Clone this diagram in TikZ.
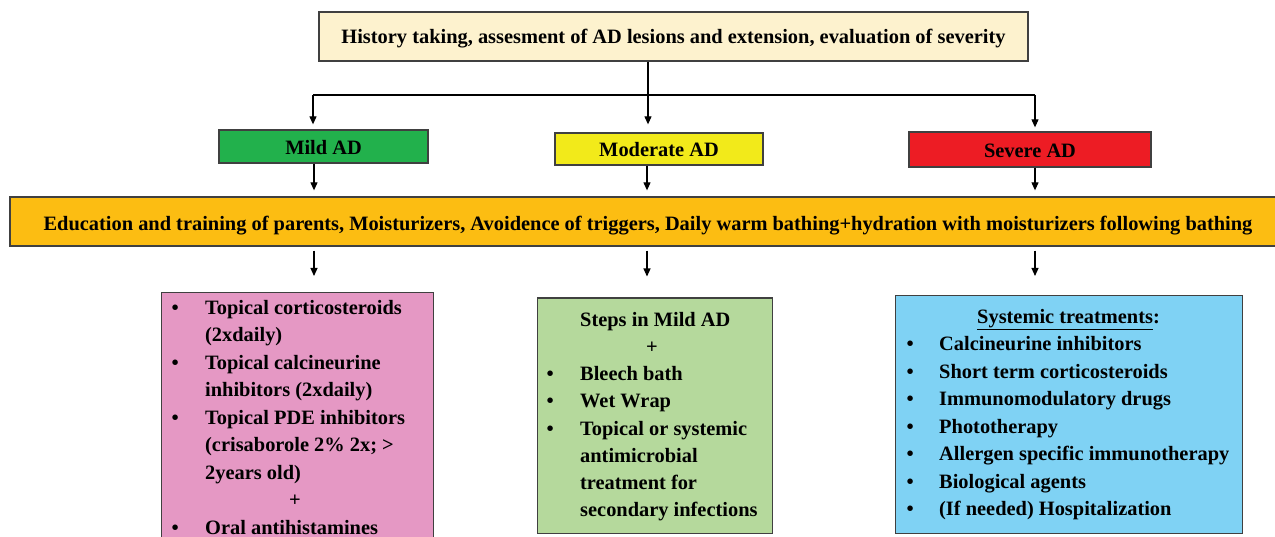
\documentclass[tikz,border=0pt]{standalone}
\usepackage{fontspec}
\setmainfont{Liberation Serif}
\usetikzlibrary{arrows.meta,calc}
\definecolor{cream}{RGB}{253,242,206}
\definecolor{mildg}{RGB}{34,177,76}
\definecolor{mody}{RGB}{242,234,26}
\definecolor{sevr}{RGB}{237,28,36}
\definecolor{band}{RGB}{252,189,18}
\definecolor{pinkb}{RGB}{229,152,196}
\definecolor{greenb}{RGB}{181,217,156}
\definecolor{blueb}{RGB}{127,210,244}
\definecolor{edge}{RGB}{64,64,64}
\tikzset{
  box/.style={draw=edge, line width=1.3pt, inner sep=0pt, text depth=0pt, font=\fontsize{20.4}{27.5}\selectfont\bfseries},
  arr/.style={line width=1.1pt, -{Triangle[length=8pt,width=7pt]}},
  ln/.style={line width=1.1pt},
  txt/.style={inner sep=0pt, anchor=north west, font=\fontsize{20.4}{27.5}\selectfont\bfseries}
}
\begin{document}
\begin{tikzpicture}[x=1pt,y=-1pt]
\useasboundingbox (0,0) rectangle (1275,537);
% top
\node[box, fill=cream, minimum width=709pt, minimum height=49pt, text height=15pt] (top) at (673.5,36.5) {History taking, assesment of AD lesions and extension, evaluation of severity};
% severity boxes
\node[box, fill=mildg, minimum width=209pt, minimum height=33pt, text height=17pt] (mild) at (323.5,146.5) {Mild AD};
\node[box, fill=mody, minimum width=208pt, minimum height=32pt, text height=16pt] (mod) at (659,149) {Moderate AD};
\node[box, fill=sevr, minimum width=242pt, minimum height=35pt, text height=17pt] (sev) at (1030,149.5) {Severe AD};
% band
\node[box, fill=band, minimum width=1276pt, minimum height=49pt, text height=18pt] (bandbox) at (648,221.5) {Education and training of parents, Moisturizers, Avoidence of triggers, Daily warm bathing+hydration with moisturizers following bathing};
% treatment boxes
\node[box, fill=pinkb, minimum width=272pt, minimum height=260pt, anchor=north west] (pink) at (161,292) {};
\node[box, fill=greenb, minimum width=235pt, minimum height=235pt, anchor=north west] (green) at (537,297.5) {};
\node[box, fill=blueb, minimum width=347pt, minimum height=238pt, anchor=north west] (blue) at (895,295) {};
% texts
\node[txt] (pinktxt) at (171.5,295) {\begin{tabular}{@{}p{33.5pt}@{}l@{}}
\textbullet & Topical corticosteroids\\
 & (2xdaily)\\
\textbullet & Topical calcineurine\\
 & inhibitors (2xdaily)\\
\textbullet & Topical PDE inhibitors\\
 & (crisaborole 2\% 2x; >\\
 & 2years old)\\
 & \hspace{84pt}+\\
\textbullet & Oral antihistamines
\end{tabular}};
\node[txt, font=\fontsize{20.4}{27.2}\selectfont\bfseries] (greentxt) at (546.5,307) {\begin{tabular}{@{}p{33.5pt}@{}l@{}}
 & Steps in Mild AD\\
 & \hspace{66pt}+\\
\textbullet & Bleech bath\\
\textbullet & Wet Wrap\\
\textbullet & Topical or systemic\\
 & antimicrobial\\
 & treatment for\\
 & secondary infections
\end{tabular}};
\node[txt] (bluetxt) at (906.5,304) {\begin{tabular}{@{}p{32.5pt}@{}l@{}}
\multicolumn{2}{@{}l@{}}{\hspace{70.5pt}\underline{Systemic treatments}:}\\
\textbullet & Calcineurine inhibitors\\
\textbullet & Short term corticosteroids\\
\textbullet & Immunomodulatory drugs\\
\textbullet & Phototherapy\\
\textbullet & Allergen specific immunotherapy\\
\textbullet & Biological agents\\
\textbullet & (If needed) Hospitalization
\end{tabular}};
% connectors
\coordinate (j) at (648,95);
\coordinate (jl) at (313,95);
\coordinate (jr) at (1035,95);
\draw[ln] (top.south -| j) -- (j);
\draw[ln] (jl) -- (jr);
\draw[arr] (jl) -- ([yshift=5pt]mild.north -| jl);
\draw[arr] (j) -- ([yshift=8pt]mod.north -| j);
\draw[arr] (jr) -- ([yshift=4pt]sev.north -| jr);
\coordinate (c1) at (314,0);
\coordinate (c2) at (647,0);
\coordinate (c3) at (1035,0);
\draw[arr] (mild.south -| c1) -- ([yshift=6pt]bandbox.north -| c1);
\draw[arr] (mod.south -| c2) -- ([yshift=6pt]bandbox.north -| c2);
\draw[arr] (sev.south -| c3) -- ([yshift=6pt]bandbox.north -| c3);
\draw[arr] ([yshift=-4pt]bandbox.south -| c1) -- ([yshift=16pt]pink.north -| c1);
\draw[arr] ([yshift=-4pt]bandbox.south -| c2) -- ([yshift=21pt]green.north -| c2);
\draw[arr] ([yshift=-4pt]bandbox.south -| c3) -- ([yshift=19pt]blue.north -| c3);
\end{tikzpicture}
\end{document}
